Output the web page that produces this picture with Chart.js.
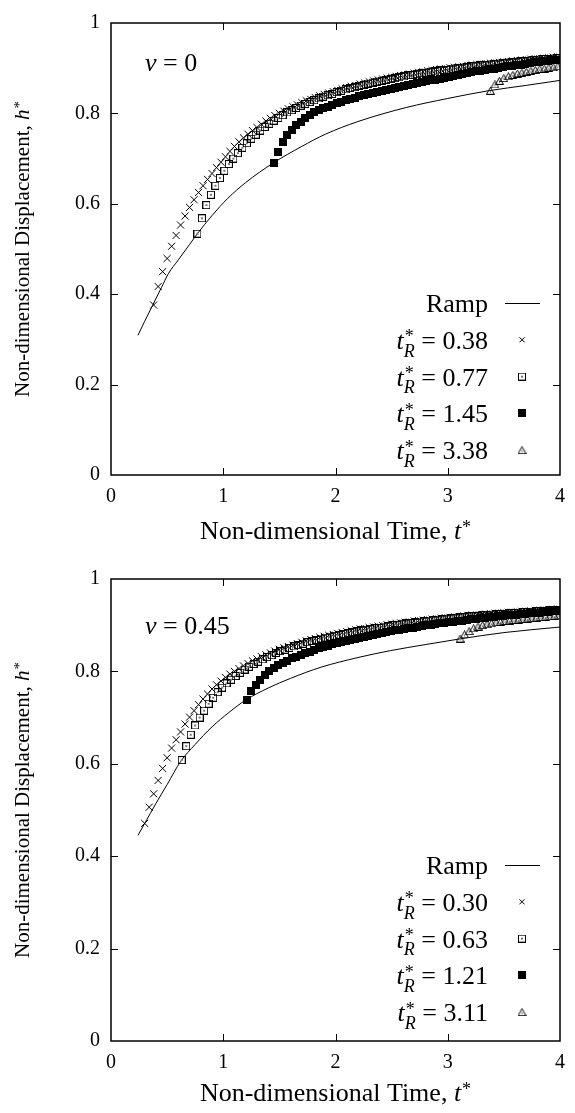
<!DOCTYPE html>
<html>
<head>
<meta charset="utf-8">
<script src="https://cdn.jsdelivr.net/npm/chart.js@4.4.1/dist/chart.umd.min.js"></script>
<style>
  html, body { margin: 0; padding: 0; background: #fff; }
  .panel { position: relative; width: 575px; }
  #p1 { height: 556px; }
  #p2 { height: 557px; }
</style>
</head>
<body>
<div class="panel" id="p1"><canvas id="chartNu0"></canvas></div>
<div class="panel" id="p2"><canvas id="chartNu45"></canvas></div>
<script>
// ---- nu = 0 ----
const ramp0T = [0.24,0.30,0.37,0.45,0.51,0.60,0.70,0.77,0.90,1.04,1.20,1.45,1.70,1.91,2.20,2.63,3.00,3.36,3.70,4.00]
const ramp0H = [0.309,0.340,0.375,0.415,0.445,0.476,0.510,0.534,0.574,0.612,0.647,0.691,0.727,0.754,0.782,0.813,0.833,0.850,0.862,0.873]

const tA0 = [0.38,0.42,0.46,0.50,0.54,0.58,0.62,0.66,0.70,0.74,0.78,0.82,0.86,0.90,0.94,0.98,1.02,1.06,1.10,1.14,
  1.18,1.22,1.26,1.30,1.34,1.38,1.42,1.46,1.50,1.54,1.58,1.62,1.66,1.70,1.74,1.78,1.82,1.86,1.90,1.94,
  1.98,2.02,2.06,2.10,2.14,2.18,2.22,2.26,2.30,2.34,2.38,2.42,2.46,2.50,2.54,2.58,2.62,2.66,2.70,2.74,
  2.78,2.82,2.86,2.90,2.94,2.98,3.02,3.06,3.10,3.14,3.18,3.22,3.26,3.30,3.34,3.38,3.42,3.46,3.50,3.54,
  3.58,3.62,3.66,3.70,3.74,3.78,3.82,3.86,3.90,3.94,3.98]
const hA0 = [0.376,0.417,0.450,0.479,0.506,0.530,0.553,0.573,0.592,0.609,0.625,0.640,0.654,0.667,0.680,0.692,0.704,0.716,0.727,0.737,
  0.746,0.754,0.762,0.769,0.776,0.783,0.789,0.795,0.800,0.805,0.810,0.815,0.819,0.824,0.828,0.831,0.835,0.839,0.842,0.845,
  0.848,0.851,0.854,0.857,0.860,0.862,0.865,0.867,0.870,0.872,0.874,0.876,0.878,0.880,0.882,0.884,0.885,0.887,0.889,0.891,
  0.892,0.894,0.895,0.897,0.898,0.899,0.901,0.902,0.903,0.904,0.906,0.907,0.908,0.909,0.910,0.911,0.912,0.913,0.914,0.915,
  0.916,0.917,0.918,0.919,0.920,0.921,0.921,0.922,0.923,0.924,0.925]

const tB0 = [0.77,0.81,0.85,0.89,0.93,0.97,1.01,1.05,1.09,1.13,1.17,1.21,1.25,1.29,1.33,1.37,1.41,1.45,1.49,1.53,
  1.57,1.61,1.65,1.69,1.73,1.77,1.81,1.85,1.89,1.93,1.97,2.01,2.05,2.09,2.13,2.17,2.21,2.25,2.29,2.33,
  2.37,2.41,2.45,2.49,2.53,2.57,2.61,2.65,2.69,2.73,2.77,2.81,2.85,2.89,2.93,2.97,3.01,3.05,3.09,3.13,
  3.17,3.21,3.25,3.29,3.33,3.37,3.41,3.45,3.49,3.53,3.57,3.61,3.65,3.69,3.73,3.77,3.81,3.85,3.89,3.93,3.97]
const hB0 = [0.534,0.568,0.597,0.620,0.640,0.657,0.673,0.688,0.700,0.712,0.724,0.734,0.744,0.753,0.762,0.770,0.777,0.784,0.790,0.796,
  0.802,0.807,0.812,0.817,0.821,0.825,0.829,0.833,0.837,0.840,0.843,0.847,0.850,0.853,0.856,0.858,0.861,0.863,0.866,0.868,
  0.870,0.872,0.874,0.876,0.878,0.880,0.882,0.884,0.885,0.887,0.889,0.890,0.892,0.893,0.895,0.896,0.897,0.899,0.900,0.901,
  0.902,0.904,0.905,0.906,0.907,0.908,0.909,0.910,0.911,0.912,0.913,0.914,0.915,0.916,0.917,0.918,0.919,0.920,0.920,0.921,0.922]

const tC0 = [1.45,1.49,1.53,1.57,1.61,1.65,1.69,1.73,1.77,1.81,1.85,1.89,1.93,1.97,2.01,2.05,2.09,2.13,2.17,2.21,
  2.25,2.29,2.33,2.37,2.41,2.45,2.49,2.53,2.57,2.61,2.65,2.69,2.73,2.77,2.81,2.85,2.89,2.93,2.97,3.01,
  3.05,3.09,3.13,3.17,3.21,3.25,3.29,3.33,3.37,3.41,3.45,3.49,3.53,3.57,3.61,3.65,3.69,3.73,3.77,3.81,
  3.85,3.89,3.93,3.97]
const hC0 = [0.691,0.714,0.736,0.752,0.764,0.774,0.782,0.790,0.796,0.802,0.807,0.811,0.815,0.819,0.823,0.826,0.829,0.832,0.835,0.838,
  0.840,0.843,0.845,0.848,0.850,0.852,0.854,0.856,0.858,0.861,0.863,0.865,0.867,0.869,0.871,0.873,0.875,0.877,0.879,0.881,
  0.883,0.885,0.887,0.889,0.891,0.893,0.894,0.896,0.898,0.899,0.901,0.902,0.904,0.905,0.907,0.908,0.910,0.911,0.913,0.914,
  0.915,0.917,0.918,0.919]

const tD0 = [3.38,3.42,3.46,3.50,3.54,3.58,3.62,3.66,3.70,3.74,3.78,3.82,3.86,3.90,3.94,3.98]
const hD0 = [0.850,0.864,0.872,0.878,0.882,0.885,0.888,0.890,0.892,0.894,0.896,0.898,0.899,0.901,0.902,0.904]

const tR0 = ['0.38', '0.77', '1.45', '3.38']

// ---- nu = 0.45 ----
const ramp45T = [0.24,0.30,0.40,0.50,0.62,0.75,0.90,1.05,1.20,1.40,1.60,1.87,2.20,2.49,2.80,3.10,3.50,4.00]
const ramp45H = [0.445,0.471,0.514,0.555,0.605,0.642,0.680,0.711,0.738,0.764,0.785,0.809,0.830,0.845,0.858,0.870,0.884,0.896]

const tA45 = [0.30,0.34,0.38,0.42,0.46,0.50,0.54,0.58,0.62,0.66,0.70,0.74,0.78,0.82,0.86,0.90,0.94,0.98,1.02,1.06,
  1.10,1.14,1.18,1.22,1.26,1.30,1.34,1.38,1.42,1.46,1.50,1.54,1.58,1.62,1.66,1.70,1.74,1.78,1.82,1.86,
  1.90,1.94,1.98,2.02,2.06,2.10,2.14,2.18,2.22,2.26,2.30,2.34,2.38,2.42,2.46,2.50,2.54,2.58,2.62,2.66,
  2.70,2.74,2.78,2.82,2.86,2.90,2.94,2.98,3.02,3.06,3.10,3.14,3.18,3.22,3.26,3.30,3.34,3.38,3.42,3.46,
  3.50,3.54,3.58,3.62,3.66,3.70,3.74,3.78,3.82,3.86,3.90,3.94,3.98]
const hA45 = [0.471,0.506,0.535,0.564,0.590,0.613,0.634,0.652,0.669,0.686,0.701,0.715,0.728,0.740,0.751,0.762,0.771,0.779,0.787,0.794,
  0.800,0.806,0.812,0.817,0.823,0.827,0.832,0.836,0.840,0.844,0.848,0.851,0.854,0.857,0.860,0.863,0.866,0.869,0.871,0.874,
  0.876,0.878,0.880,0.882,0.884,0.886,0.888,0.890,0.892,0.893,0.895,0.896,0.898,0.899,0.901,0.902,0.904,0.905,0.906,0.907,
  0.909,0.910,0.911,0.912,0.913,0.914,0.915,0.916,0.917,0.918,0.919,0.920,0.921,0.922,0.922,0.923,0.924,0.925,0.926,0.926,
  0.927,0.928,0.928,0.929,0.930,0.930,0.931,0.932,0.932,0.933,0.934,0.934,0.935]

const tB45 = [0.63,0.67,0.71,0.75,0.79,0.83,0.87,0.91,0.95,0.99,1.03,1.07,1.11,1.15,1.19,1.23,1.27,1.31,1.35,1.39,
  1.43,1.47,1.51,1.55,1.59,1.63,1.67,1.71,1.75,1.79,1.83,1.87,1.91,1.95,1.99,2.03,2.07,2.11,2.15,2.19,
  2.23,2.27,2.31,2.35,2.39,2.43,2.47,2.51,2.55,2.59,2.63,2.67,2.71,2.75,2.79,2.83,2.87,2.91,2.95,2.99,
  3.03,3.07,3.11,3.15,3.19,3.23,3.27,3.31,3.35,3.39,3.43,3.47,3.51,3.55,3.59,3.63,3.67,3.71,3.75,3.79,
  3.83,3.87,3.91,3.95,3.99]
const hB45 = [0.608,0.638,0.663,0.683,0.700,0.715,0.730,0.743,0.755,0.765,0.774,0.782,0.790,0.797,0.804,0.810,0.816,0.821,0.826,0.831,
  0.835,0.840,0.844,0.847,0.851,0.854,0.857,0.860,0.863,0.866,0.868,0.871,0.873,0.875,0.877,0.879,0.881,0.883,0.885,0.887,
  0.889,0.890,0.892,0.894,0.895,0.897,0.898,0.900,0.901,0.903,0.904,0.905,0.906,0.908,0.909,0.910,0.911,0.912,0.913,0.914,
  0.915,0.916,0.917,0.918,0.919,0.920,0.920,0.921,0.922,0.923,0.924,0.924,0.925,0.926,0.926,0.927,0.928,0.928,0.929,0.930,
  0.930,0.931,0.932,0.932,0.933]

const tC45 = [1.21,1.25,1.29,1.33,1.37,1.41,1.45,1.49,1.53,1.57,1.61,1.65,1.69,1.73,1.77,1.81,1.85,1.89,1.93,1.97,
  2.01,2.05,2.09,2.13,2.17,2.21,2.25,2.29,2.33,2.37,2.41,2.45,2.49,2.53,2.57,2.61,2.65,2.69,2.73,2.77,
  2.81,2.85,2.89,2.93,2.97,3.01,3.05,3.09,3.13,3.17,3.21,3.25,3.29,3.33,3.37,3.41,3.45,3.49,3.53,3.57,
  3.61,3.65,3.69,3.73,3.77,3.81,3.85,3.89,3.93,3.97]
const hC45 = [0.738,0.757,0.770,0.781,0.792,0.800,0.807,0.813,0.818,0.823,0.828,0.832,0.836,0.840,0.843,0.847,0.850,0.853,0.856,0.859,
  0.861,0.864,0.866,0.869,0.871,0.873,0.875,0.877,0.879,0.881,0.883,0.885,0.887,0.889,0.890,0.892,0.894,0.895,0.897,0.898,
  0.900,0.901,0.903,0.904,0.905,0.907,0.908,0.909,0.910,0.912,0.913,0.914,0.915,0.916,0.917,0.918,0.919,0.920,0.921,0.922,
  0.923,0.924,0.925,0.926,0.926,0.927,0.928,0.929,0.930,0.930]

const tD45 = [3.11,3.15,3.19,3.23,3.27,3.31,3.35,3.39,3.43,3.47,3.51,3.55,3.59,3.63,3.67,3.71,3.75,3.79,3.83,3.87,3.91,3.95,3.99]
const hD45 = [0.871,0.880,0.887,0.893,0.897,0.900,0.902,0.904,0.906,0.907,0.909,0.910,0.911,0.912,0.913,0.914,0.915,0.916,0.917,0.918,0.919,0.920,0.921]

const tR45 = ['0.30', '0.63', '1.21', '3.11']

const xTicks = [0, 1, 2, 3, 4]
const yTicks = [0, 0.2, 0.4, 0.6, 0.8, 1]

const FONT = "'Liberation Serif', 'DejaVu Serif', serif"
Chart.defaults.font.family = FONT
Chart.defaults.font.size = 20
Chart.defaults.color = '#000'

// marker glyphs (gnuplot style, with a centre dot)
function marker(kind) {
  const c = document.createElement('canvas')
  const g = c.getContext('2d')
  g.strokeStyle = '#000'
  g.fillStyle = '#000'
  g.lineWidth = 1
  if (kind == 'box') {
    c.width = 8; c.height = 8
    g.strokeRect(0.5, 0.5, 7, 7)
    g.fillStyle = '#777'
    g.fillRect(3, 3, 2, 2)
  } else if (kind == 'fbox') {
    c.width = 8; c.height = 8
    g.fillRect(0, 0, 8, 8)
  } else if (kind == 'tri') {
    c.width = 9; c.height = 8
    g.beginPath()
    g.moveTo(4.5, 0.5); g.lineTo(8.5, 7.5); g.lineTo(0.5, 7.5); g.closePath()
    g.stroke()
    g.fillStyle = '#777'
    g.fillRect(4, 4, 1, 2)
  }
  return c
}
const styles = [
  { pointStyle: 'crossRot', radius: 5 },
  { pointStyle: marker('box'), radius: 4 },
  { pointStyle: marker('fbox'), radius: 4 },
  { pointStyle: marker('tri'), radius: 4 }
]

function pts(t, h) {
  const n = Math.min(t.length, h.length)
  const out = []
  for (let i = 0; i < n; i++) out.push({ x: t[i], y: h[i] })
  return out
}

// text with italic pieces, superscripts and subscripts
function fontOf(it, size) { return (it ? 'italic ' : '') + size + 'px ' + FONT }
function run(ctx, parts, x, y, draw, size) {
  const big = size || 20
  const small = Math.round(big * 0.7)
  let cx = x
  parts.forEach(p => {
    if (p.sup !== undefined || p.sub !== undefined) {
      let w = 0
      if (p.sup) {
        ctx.font = fontOf(false, small)
        if (draw) ctx.fillText(p.sup, cx + 1, y - big * 0.25)
        w = Math.max(w, ctx.measureText(p.sup).width + 1)
      }
      if (p.sub) {
        ctx.font = fontOf(true, small)
        if (draw) ctx.fillText(p.sub, cx, y + big * 0.3)
        w = Math.max(w, ctx.measureText(p.sub).width)
      }
      cx += w
    } else {
      ctx.font = fontOf(p.it, big)
      if (draw) ctx.fillText(p.s, cx, y)
      cx += ctx.measureText(p.s).width
    }
  })
  return cx - x
}

const framePlugin = {
  id: 'frame',
  afterDraw(chart) {
    const { ctx, chartArea: a } = chart
    const xs = chart.scales.x, ys = chart.scales.y
    ctx.save()
    ctx.strokeStyle = '#000'
    ctx.lineWidth = 1
    ctx.beginPath()
    xTicks.forEach(v => {
      if (v <= xs.min || v >= xs.max) return
      const px = Math.round(xs.getPixelForValue(v)) + 0.5
      ctx.moveTo(px, a.bottom); ctx.lineTo(px, a.bottom - 7)
      ctx.moveTo(px, a.top); ctx.lineTo(px, a.top + 7)
    })
    yTicks.forEach(v => {
      if (v <= ys.min || v >= ys.max) return
      const py = Math.round(ys.getPixelForValue(v)) + 0.5
      ctx.moveTo(a.left, py); ctx.lineTo(a.left + 7, py)
      ctx.moveTo(a.right, py); ctx.lineTo(a.right - 7, py)
    })
    ctx.stroke()
    ctx.lineWidth = 1.5
    ctx.strokeRect(a.left, a.top, a.right - a.left, a.bottom - a.top)
    ctx.restore()
  }
}

const textPlugin = {
  id: 'panelText',
  afterDraw(chart, args, o) {
    const { ctx, chartArea: a } = chart
    ctx.save()
    ctx.fillStyle = '#000'
    ctx.strokeStyle = '#000'
    ctx.textAlign = 'left'
    ctx.textBaseline = 'alphabetic'

    // nu label
    run(ctx, [{ s: 'ν', it: true }, { s: ' = ' + o.nu }], a.left + 34, o.nuY, true, 26)

    // x title
    const xt = [{ s: 'Non-dimensional Time, ' }, { s: 't', it: true }, { sup: '*' }]
    const xw = run(ctx, xt, 0, 0, false, 26)
    run(ctx, xt, (a.left + a.right) / 2 - xw / 2, o.xTitleY, true, 26)

    // legend
    o.legend.forEach((r, i) => {
      const parts = i == 0 ? [{ s: 'Ramp' }] :
        [{ s: 't', it: true }, { sup: '*', sub: 'R' }, { s: ' = ' + r }]
      const w = run(ctx, parts, 0, 0, false, 26)
      const y = o.legendY + i * o.legendStep
      run(ctx, parts, o.legendRight - w, y + 9, true, 26)
      if (i == 0) {
        ctx.lineWidth = 1
        ctx.beginPath()
        ctx.moveTo(o.legendRight + 17, y + 0.5)
        ctx.lineTo(o.legendRight + 52, y + 0.5)
        ctx.stroke()
      } else {
        const st = styles[i - 1]
        ctx.lineWidth = 1
        Chart.helpers.drawPoint(ctx, { pointStyle: st.pointStyle, radius: i == 1 ? 3.6 : st.radius, rotation: 0, borderWidth: 1 }, o.legendRight + 34, y)
      }
    })

    // y title (rotated)
    const yt = [{ s: 'Non-dimensional Displacement, ' }, { s: 'h', it: true }, { sup: '*' }]
    const yw = run(ctx, yt, 0, 0, false, 21)
    ctx.translate(o.yTitleX, (a.top + a.bottom) / 2)
    ctx.rotate(-Math.PI / 2)
    run(ctx, yt, -yw / 2, 7, true, 21)
    ctx.restore()
  }
}

function buildChart(id, plotTop, plotBottom, ramp, series, labels, nu, extra) {
  const canvas = document.getElementById(id)
  const H = canvas.parentNode.clientHeight
  const datasets = [{
    label: 'Ramp',
    data: pts(ramp[0], ramp[1]),
    showLine: true,
    borderColor: '#000',
    borderWidth: 1,
    pointRadius: 0,
    cubicInterpolationMode: 'monotone',
    order: 5
  }]
  series.forEach((s, i) => {
    datasets.push({
      label: 'tR = ' + labels[i],
      data: pts(s[0], s[1]),
      showLine: false,
      pointStyle: styles[i].pointStyle,
      pointRadius: styles[i].radius,
      borderColor: '#000',
      backgroundColor: '#000',
      borderWidth: 1,
      order: 4 - i
    })
  })
  return new Chart(canvas, {
    type: 'scatter',
    data: { datasets },
    options: {
      responsive: true,
      maintainAspectRatio: false,
      animation: false,
      devicePixelRatio: 1,
      layout: { padding: { top: plotTop, right: 5, left: 0, bottom: 0 } },
      plugins: {
        legend: { display: false },
        tooltip: { enabled: false },
        panelText: Object.assign({ nu: nu, legend: ['Ramp'].concat(labels) }, extra)
      },
      scales: {
        x: {
          type: 'linear', min: 0, max: 4,
          grid: { display: false, drawTicks: false },
          border: { display: false },
          ticks: { stepSize: 1, padding: 10, maxRotation: 0 },
          afterFit: s => { s.height = H - plotBottom }
        },
        y: {
          type: 'linear', min: 0, max: 1,
          grid: { display: false, drawTicks: false },
          border: { display: false },
          ticks: { stepSize: 0.2, padding: 11, callback: v => String(Math.round(v * 10) / 10) },
          afterFit: s => { s.width = 111 }
        }
      }
    },
    plugins: [framePlugin, textPlugin]
  })
}

buildChart('chartNu0', 16, 475, [ramp0T, ramp0H],
  [[tA0, hA0], [tB0, hB0], [tC0, hC0], [tD0, hD0]], tR0, '0',
  { nuY: 71, xTitleY: 539, yTitleX: 22, legendRight: 488, legendY: 303, legendStep: 36.8 })

buildChart('chartNu45', 22, 485, [ramp45T, ramp45H],
  [[tA45, hA45], [tB45, hB45], [tC45, hC45], [tD45, hD45]], tR45, '0.45',
  { nuY: 78, xTitleY: 545, yTitleX: 22, legendRight: 488, legendY: 309, legendStep: 36.8 })
</script>
</body>
</html>
